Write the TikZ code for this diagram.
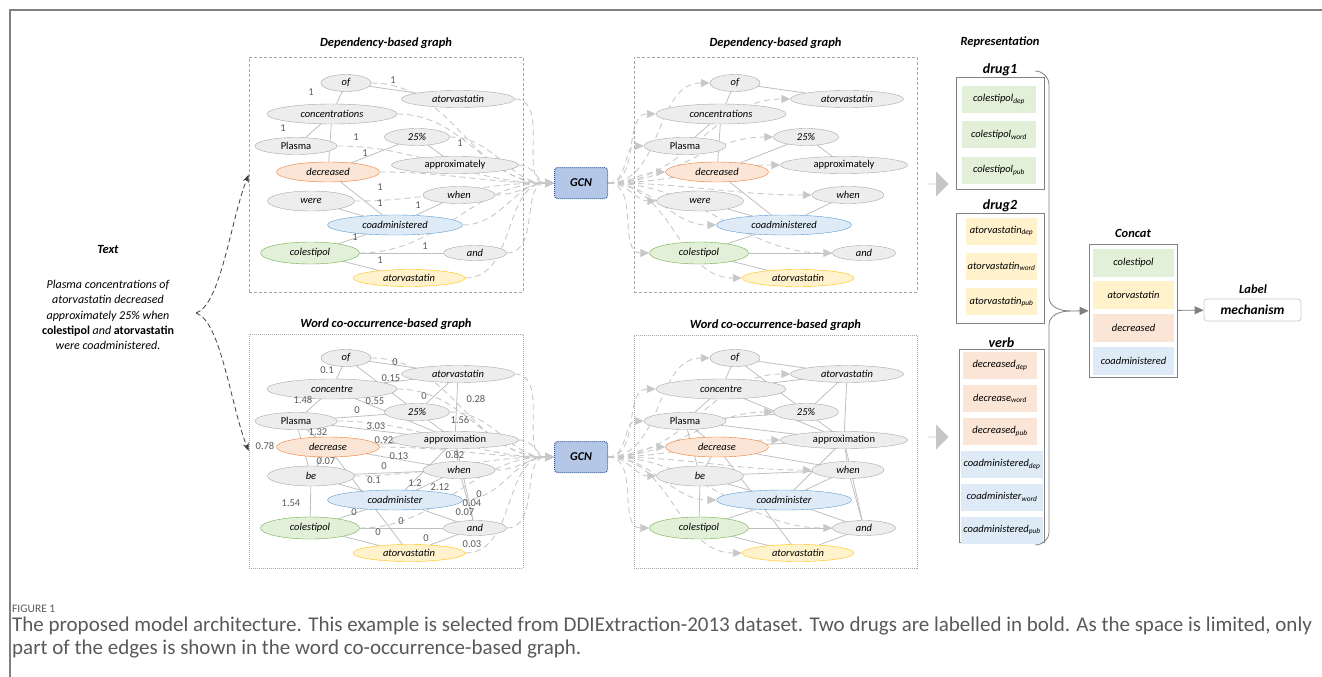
\documentclass[tikz,border=0pt]{standalone}
\usepackage{fontspec}
\setmainfont{Carlito}
\usetikzlibrary{arrows.meta, positioning, shapes.geometric, shapes.arrows, backgrounds}

\definecolor{tokfill}{HTML}{EDEDED}
\definecolor{tokline}{HTML}{A6A6A6}
\definecolor{orgfill}{HTML}{FBE5D6}
\definecolor{orgline}{HTML}{ED7D31}
\definecolor{blufill}{HTML}{DEEBF7}
\definecolor{bluline}{HTML}{5B9BD5}
\definecolor{grnfill}{HTML}{E2F0D9}
\definecolor{grnline}{HTML}{70AD47}
\definecolor{ylwfill}{HTML}{FFF2CC}
\definecolor{ylwline}{HTML}{FFC000}
\definecolor{gcnfill}{HTML}{B4C7E7}
\definecolor{gcnline}{HTML}{2F5597}
\definecolor{edgegray}{HTML}{BFBFBF}
\definecolor{feedgray}{HTML}{C8C8C8}
\definecolor{boxline}{HTML}{A6A6A6}
\definecolor{capgray}{HTML}{595959}

\newcommand\tokfont{\fontsize{10.5}{12}\selectfont}
\newcommand\ttlfont{\fontsize{12.5}{14}\selectfont\bfseries\itshape}

% the tokens of one sentence graph; #1 name prefix, #2-#6 the words that differ
\newcommand\tokengraph[6]{%
  \node[tok, minimum width=50pt]  (#1of)   at (346,83)  {of};
  \node[tok, minimum width=113pt] (#1atv)  at (458,99)  {atorvastatin};
  \node[tok, minimum width=130pt, minimum height=20pt] (#1conc) at (332,114) {#2};
  \node[tok, minimum width=82pt, font=\tokfont] (#1plasma) at (296,146) {Plasma};
  \node[tok, minimum width=65pt]  (#1pct)  at (417,137) {25\%};
  \node[tok, orangetok, minimum width=103pt, minimum height=20pt] (#1decr) at (328,172) {#3};
  \node[tok, minimum width=127pt, font=\tokfont] (#1appr) at (455,165) {#4};
  \node[tok, minimum width=87pt, minimum height=20pt] (#1aux) at (311,201) {#5};
  \node[tok, minimum width=72pt]  (#1when) at (459,195) {when};
  \node[tok, bluetok, minimum width=135pt, minimum height=20pt] (#1coad) at (395,225) {#6};
  \node[tok, greentok, minimum width=99pt, minimum height=22pt] (#1cole) at (310,253) {colestipol};
  \node[tok, minimum width=63pt, minimum height=15pt] (#1and) at (475,253) {and};
  \node[tok, yellowtok, minimum width=112pt] (#1atvb) at (409,278) {atorvastatin};
}

\begin{document}
\begin{tikzpicture}[x=1pt, y=-1pt,
    >={Triangle[length=9pt, width=8pt]},
    tok/.style={ellipse, draw=tokline, fill=tokfill, inner sep=0pt,
                minimum height=17pt, font=\tokfont\itshape},
    orangetok/.style={draw=orgline, fill=orgfill},
    bluetok/.style={draw=bluline, fill=blufill},
    greentok/.style={draw=grnline, fill=grnfill},
    yellowtok/.style={draw=ylwline, fill=ylwfill},
    gframe/.style={draw=boxline, line width=0.6pt, dash pattern=on 3pt off 2pt,
                   minimum width=274pt, minimum height=235pt, inner sep=0pt},
    dotframe/.style={gframe, dash pattern=on 1pt off 1pt},
    ttl/.style={font=\ttlfont, inner sep=1pt},
    gcn/.style={draw=gcnline, densely dotted, line width=1pt, fill=gcnfill,
                rounded corners=3pt, minimum width=53pt, minimum height=31pt,
                font=\fontsize{12}{14}\selectfont\bfseries\itshape},
    link/.style={draw=edgegray, line width=0.8pt},
    feed/.style={draw=feedgray, line width=0.9pt, dash pattern=on 6pt off 4pt},
    wt/.style={text=capgray, font=\tokfont, inner sep=1pt},
    repbox/.style={draw=gray, line width=0.7pt, minimum width=88pt, inner sep=0pt},
    rep/.style={minimum width=74pt, minimum height=27pt, inner sep=0pt,
                font=\tokfont\itshape},
    hdr/.style={font=\fontsize{14}{16}\selectfont\bfseries\itshape, inner sep=1pt},
    bigarrow/.style={single arrow, fill=gray!45, draw=none, inner sep=0pt,
                     minimum height=21pt, minimum width=25pt,
                     single arrow head extend=6pt},
    flow/.style={draw=gray, line width=0.9pt, ->, >={Triangle[length=9pt, width=8pt]}},
    brace/.style={draw=gray, line width=0.8pt},
    frame/.style={draw=gray, line width=1.5pt},
    captxt/.style={anchor=base west, inner sep=0pt, text=capgray,
                   font=\fontsize{21}{23}\selectfont}]

\useasboundingbox (0,0) rectangle (1322,677);
\draw[frame] (10,677) -- (10,10) -- (1322,10);

% input sentence
\node[ttl] (txtttl) at (108,249) {Text};
\node[align=center, font=\fontsize{12}{15.4}\selectfont\itshape] (sent) at (108,315)
  {Plasma concentrations of\\ atorvastatin decreased\\ approximately 25\% when\\
   {\upshape\bfseries colestipol} and {\upshape\bfseries atorvastatin}\\ were coadministered.};
\coordinate (fork) at (196,313);

% graph frames and titles
\node[gframe] (dlbox) at (386,174.5) {};
\node[gframe, minimum width=283pt] (drbox) at (775.5,174.5) {};
\node[dotframe, minimum height=234pt] (wlbox) at (386,451) {};
\node[dotframe, minimum width=283pt, minimum height=233pt] (wrbox) at (775.5,451.5) {};
\node[ttl, above=7pt of dlbox] (dlttl) {Dependency-based graph};
\node[ttl, above=7pt of drbox] (drttl) {Dependency-based graph};
\node[ttl, above=3pt of wlbox] (wlttl) {Word co-occurrence-based graph};
\node[ttl, above=3pt of wrbox] (wrttl) {Word co-occurrence-based graph};

\node[gcn] (gcnA) at (581,183) {GCN};
\node[gcn] (gcnB) at (581,457) {GCN};

\tokengraph{dl}{concentrations}{decreased}{approximately}{were}{coadministered}
\begin{scope}[shift={(389,0)}]
  \tokengraph{dr}{concentrations}{decreased}{approximately}{were}{coadministered}
\end{scope}
\begin{scope}[shift={(0,275)}]
  \tokengraph{wl}{concentre}{decrease}{approximation}{be}{coadminister}
\end{scope}
\begin{scope}[shift={(389,275)}]
  \tokengraph{wr}{concentre}{decrease}{approximation}{be}{coadminister}
\end{scope}

\begin{scope}[on background layer]
  % dependency arcs
  \foreach \a/\b in {of/conc, of/atv, conc/plasma, conc/decr, decr/pct,
                     pct/appr, decr/coad, aux/coad, when/coad, coad/cole,
                     cole/and, cole/atvb}
    \draw[link] (dl\a) -- (dl\b) (dr\a) -- (dr\b);
  % co-occurrence arcs, only part of them
  \foreach \a/\b in {of/conc, of/atv, of/pct, conc/atv, atv/pct, atv/appr,
                     conc/plasma, conc/appr, plasma/pct, pct/appr, plasma/appr,
                     plasma/decr, plasma/aux, decr/appr, decr/aux, decr/when,
                     appr/when, aux/when, aux/coad, appr/coad, when/coad,
                     aux/cole, when/and, appr/and, coad/and, coad/cole,
                     cole/and, cole/atvb, decr/atvb, and/atvb}
    \draw[link] (wl\a) -- (wl\b) (wr\a) -- (wr\b);
  % every token goes through the GCN
  \foreach \tk in {of, atv, conc, plasma, pct, decr, appr, aux, when, coad,
                   cole, and, atvb} {
    \draw[feed, ->] (dl\tk.east) to[out=0, in=180] (gcnA.west);
    \draw[feed, ->] (wl\tk.east) to[out=0, in=180] (gcnB.west);
    \draw[feed, ->] (gcnA.east) to[out=0, in=180] (dr\tk.west);
    \draw[feed, ->] (gcnB.east) to[out=0, in=180] (wr\tk.west);
  }
\end{scope}

% edge weights
\foreach \p [count=\i] in {{311,92}, {393,80}, {283,128}, {356,137}, {365,153},
    {460,143}, {380,187}, {380,203}, {418,205}, {355,237}, {425,246}, {380,260}}
  \node[wt] (dw\i) at (\p) {1};
\foreach \p/\w [count=\i] in {
    {327,370}/0.1, {395,362}/0, {391,378}/0.15, {424,396}/0, {476,399}/0.28,
    {303,400}/1.48, {375,401}/0.55, {357,410}/0, {460,420}/1.56, {376,426}/3.03,
    {318,432}/1.32, {265,446}/0.78, {384,440}/0.92, {326,461}/0.07, {399,456}/0.13,
    {455,455}/0.82, {384,466}/0, {374,480}/0.1, {415,483}/1.2, {440,487}/2.12,
    {291,503}/1.54, {479,494}/0, {472,503}/0.04, {465,512}/0.07, {354,512}/0,
    {401,521}/0, {378,532}/0, {426,538}/0, {472,544}/0.03}
  \node[wt] (ww\i) at (\p) {\w};

% sentence into both graphs
\draw[draw=black!75, line width=0.8pt, dash pattern=on 5pt off 3pt, -{Stealth[length=8pt]}]
  (fork) .. controls +(25,-8) and +(-18,45) .. (dlbox.west);
\draw[draw=black!75, line width=0.8pt, dash pattern=on 5pt off 3pt, -{Stealth[length=8pt]}]
  (fork) .. controls +(25,8) and +(-18,-45) .. (wlbox.west);

% representation
\node[bigarrow] (toRepA) at (938,184) {};
\node[bigarrow] (toRepB) at (938,437) {};
\node[ttl] (repttl) at (1000,42) {Representation};

\node[repbox, minimum height=112pt] (drug1) at (1000,133) {};
\node[hdr, above=0pt of drug1] (drug1ttl) {drug1};
\node[rep, fill=grnfill] (d1a) at (999,99.5) {colestipol\textsubscript{dep}};
\node[rep, fill=grnfill, below=8pt of d1a] (d1b) {colestipol\textsubscript{word}};
\node[rep, fill=grnfill, below=8pt of d1b] (d1c) {colestipol\textsubscript{pub}};

\node[repbox, minimum height=110pt] (drug2) at (1000,268) {};
\node[hdr, above=0pt of drug2] (drug2ttl) {drug2};
\node[rep, fill=ylwfill, minimum width=71pt] (d2a) at (1001.5,231) {atorvastatin\textsubscript{dep}};
\node[rep, fill=ylwfill, minimum width=71pt, below=8pt of d2a] (d2b) {atorvastatin\textsubscript{word}};
\node[rep, fill=ylwfill, minimum width=71pt, below=8pt of d2b] (d2c) {atorvastatin\textsubscript{pub}};

\node[repbox, minimum width=85pt, minimum height=193pt] (verb) at (1001.5,445.5) {};
\node[hdr, above=0pt of verb] (verbttl) {verb};
\node[rep, fill=orgfill] (v1) at (1000,365.5) {decreased\textsubscript{dep}};
\node[rep, fill=orgfill, below=5.5pt of v1] (v2) {decrease\textsubscript{word}};
\node[rep, fill=orgfill, below=5.5pt of v2] (v3) {decreased\textsubscript{pub}};
\node[rep, fill=blufill, minimum width=82pt, below=5.5pt of v3, xshift=2pt] (v4) {coadministered\textsubscript{dep}};
\node[rep, fill=blufill, minimum width=82pt, below=5.5pt of v4] (v5) {coadminister\textsubscript{word}};
\node[rep, fill=blufill, minimum width=82pt, below=5.5pt of v5] (v6) {coadministered\textsubscript{pub}};

% brace gathering the three groups
\coordinate (brtip) at (1070,311);
\draw[brace] (1035,71) to[out=0, in=90] (1049,85) -- (1049,297)
  to[out=-90, in=180] (brtip);
\draw[brace] (brtip) to[out=180, in=90] (1049,325) -- (1049,532)
  to[out=-90, in=0] (1035,545);

% concatenation and output
\node[repbox, minimum height=133pt] (concat) at (1133,310.5) {};
\node[ttl, above=5pt of concat] (concatttl) {Concat};
\node[rep, fill=grnfill, minimum width=81pt, minimum height=28pt] (c1) at (1133.5,262.5) {colestipol};
\node[rep, fill=ylwfill, minimum width=81pt, minimum height=28pt, below=4.5pt of c1] (c2) {atorvastatin};
\node[rep, fill=orgfill, minimum width=81pt, minimum height=28pt, below=4.5pt of c2] (c3) {decreased};
\node[rep, fill=blufill, minimum width=81pt, minimum height=28pt, below=4.5pt of c3] (c4) {coadministered};

\node[draw=gray!40, line width=0.8pt, rounded corners=3pt, minimum width=97pt,
      minimum height=22pt, inner sep=0pt,
      font=\fontsize{13.5}{15}\selectfont\bfseries\itshape] (label) at (1252.5,310) {mechanism};
\node[ttl] (labelttl) at (1253,289) {Label};

\draw[flow] (brtip) -- (concat);
\draw[flow] (concat) -- (label);

% caption
\node[captxt, font=\fontsize{11.5}{13}\selectfont] (figno) at (12,612) {FIGURE 1};
\node[captxt] (cap1) at (12,631)
  {The proposed model architecture. This example is selected from DDIExtraction-2013 dataset. Two drugs are labelled in bold. As the space is limited, only};
\node[captxt] (cap2) at (12,654)
  {part of the edges is shown in the word co-occurrence-based graph.};
\end{tikzpicture}
\end{document}
